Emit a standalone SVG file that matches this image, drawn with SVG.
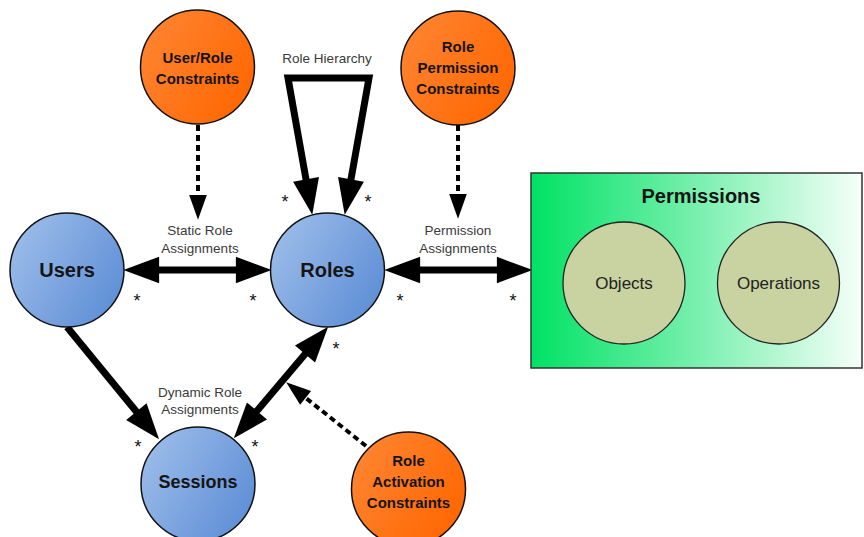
<svg xmlns="http://www.w3.org/2000/svg" width="864" height="537" viewBox="0 0 864 537">
<defs>
<linearGradient id="gBlue" x1="0" y1="0.2" x2="1" y2="0.8"><stop offset="0" stop-color="#9dbdea"/><stop offset="1" stop-color="#5c8dd5"/></linearGradient>
<linearGradient id="gOrange" x1="0" y1="0.2" x2="1" y2="0.8"><stop offset="0" stop-color="#ff8431"/><stop offset="1" stop-color="#ff6600"/></linearGradient>
<linearGradient id="gGreen" x1="0" y1="0" x2="1" y2="0"><stop offset="0" stop-color="#00e264"/><stop offset="0.45" stop-color="#6ceea6"/><stop offset="1" stop-color="#f6fff9"/></linearGradient>
<marker id="ah" markerUnits="userSpaceOnUse" markerWidth="40" markerHeight="34" viewBox="-3 -15 38 30" refX="0" refY="0" orient="auto-start-reverse"><path d="M-2,-12.5 L32,0 L-2,12.5 Z" fill="#000"/></marker>
<marker id="dh" markerUnits="userSpaceOnUse" markerWidth="28" markerHeight="22" viewBox="-3 -10 27 20" refX="0" refY="0" orient="auto-start-reverse"><path d="M-2,-8.5 L22,0 L-2,8.5 Z" fill="#000"/></marker>
<style>
.blue{fill:url(#gBlue);stroke:#111;stroke-width:1.5}
.orange{fill:url(#gOrange);stroke:#111;stroke-width:1.5}
.olive{fill:#c9d3a1;stroke:#222;stroke-width:1.3}
.big{font-family:"Liberation Sans",Arial,sans-serif;font-weight:bold;fill:#151515;text-anchor:middle}
.on{font-family:"Liberation Sans",Arial,sans-serif;font-weight:bold;font-size:15px;fill:#151515;text-anchor:middle}
.lbl{font-family:"Liberation Sans",Arial,sans-serif;font-size:13.5px;fill:#3a3a3a;text-anchor:middle}
.ast{font-family:"Liberation Sans",Arial,sans-serif;font-size:18px;fill:#111;text-anchor:middle}
.thick{fill:none;stroke:#000;stroke-width:7;marker-end:url(#ah)}
.dbl{marker-start:url(#ah)}
.dash{fill:none;stroke:#000;stroke-width:4;stroke-dasharray:6 4;marker-end:url(#dh)}
</style>
</defs>
<rect width="864" height="537" fill="#fff"/>

<g id="connectors">
<path class="thick dbl" d="M157,270 L238,270"/>
<path class="thick dbl" d="M418,270 L499,270"/>
<path class="thick" d="M67,327 L137.7,413.3"/>
<path class="thick dbl" d="M255.6,412.5 L306.4,352.5"/>
<path class="thick dbl" d="M306.4,181.5 L288,78 L369,78 L350.6,181.5" stroke-linejoin="miter"/>
<path class="dash" d="M198,125 L198,197"/>
<path class="dash" d="M458,125 L458,196"/>
<path class="dash" d="M366,446 L304,396.5"/>
<text class="lbl" x="327" y="63">Role Hierarchy</text>
<text class="lbl" x="200" y="235">Static Role</text>
<text class="lbl" x="200" y="253">Assignments</text>
<text class="lbl" x="458" y="235">Permission</text>
<text class="lbl" x="458" y="253">Assignments</text>
<text class="lbl" x="200" y="397">Dynamic Role</text>
<text class="lbl" x="200" y="414">Assignments</text>
<text class="ast" x="137" y="307">*</text>
<text class="ast" x="253" y="307">*</text>
<text class="ast" x="285" y="208">*</text>
<text class="ast" x="368" y="208">*</text>
<text class="ast" x="400" y="307">*</text>
<text class="ast" x="513" y="307">*</text>
<text class="ast" x="336" y="355">*</text>
<text class="ast" x="138" y="453">*</text>
<text class="ast" x="255" y="453">*</text>
</g>

<g id="users">
<circle class="blue" cx="67" cy="270" r="57"/>
<text class="big" x="67" y="277" font-size="20">Users</text>
</g>
<g id="roles">
<circle class="blue" cx="327.5" cy="270" r="57"/>
<text class="big" x="327.5" y="277" font-size="20">Roles</text>
</g>
<g id="sessions">
<circle class="blue" cx="198" cy="484" r="57"/>
<text class="big" x="198" y="488" font-size="18">Sessions</text>
</g>
<g id="user-role-constraints">
<circle class="orange" cx="197.5" cy="67" r="57"/>
<text class="on" x="197.5" y="63">User/Role</text>
<text class="on" x="197.5" y="84">Constraints</text>
</g>
<g id="role-permission-constraints">
<circle class="orange" cx="458" cy="68" r="57"/>
<text class="on" x="458" y="52">Role</text>
<text class="on" x="458" y="73">Permission</text>
<text class="on" x="458" y="94">Constraints</text>
</g>
<g id="role-activation-constraints">
<circle class="orange" cx="408.5" cy="489" r="57"/>
<text class="on" x="408.5" y="466">Role</text>
<text class="on" x="408.5" y="487">Activation</text>
<text class="on" x="408.5" y="508">Constraints</text>
</g>
<g id="permissions">
<rect x="531" y="173" width="331" height="195" fill="url(#gGreen)" stroke="#333" stroke-width="1.5"/>
<text class="big" x="701" y="203" font-size="20">Permissions</text>
</g>
<g id="objects">
<circle class="olive" cx="624" cy="283" r="61"/>
<text x="624" y="289" font-family="Liberation Sans, Arial, sans-serif" font-size="17" fill="#222" text-anchor="middle">Objects</text>
</g>
<g id="operations">
<circle class="olive" cx="778.5" cy="283" r="61"/>
<text x="778.5" y="289" font-family="Liberation Sans, Arial, sans-serif" font-size="17" fill="#222" text-anchor="middle">Operations</text>
</g>
</svg>
